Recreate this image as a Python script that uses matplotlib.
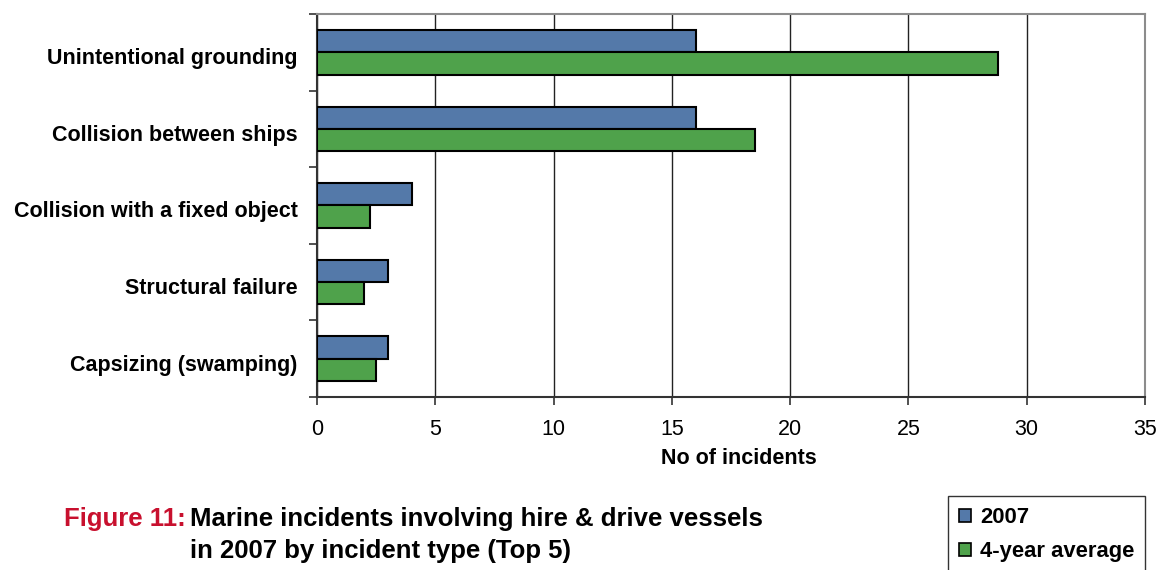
import matplotlib
matplotlib.use("Agg")
import matplotlib.pyplot as plt
import numpy as np
from matplotlib.patches import Patch

categories = ["Unintentional grounding", "Collision between ships",
              "Collision with a fixed object", "Structural failure",
              "Capsizing (swamping)"]
series_2007 = [16, 16, 4, 3, 3]
series_avg = [28.8, 18.5, 2.25, 2.0, 2.5]
series_names = ["2007", "4-year average"]
x_ticks = [0, 5, 10, 15, 20, 25, 30, 35]

plt.rcParams['font.family'] = ['Liberation Sans', 'DejaVu Sans']

fig = plt.figure(figsize=(11.64, 5.70), dpi=100)
ax = fig.add_axes([317/1164, 1-397/570, 828/1164, 383/570])

blue = "#5479a9"
green = "#4fa24b"
n = len(categories)
pos = np.arange(n)[::-1]  # top category first
h = 0.29
ax.barh(pos + h/2, series_2007, height=h, color=blue, edgecolor="black", linewidth=1.5, zorder=3)
ax.barh(pos - h/2, series_avg, height=h, color=green, edgecolor="black", linewidth=1.5, zorder=3)

ax.set_xlim(0, 35)
ax.set_ylim(-0.5, n - 0.5)
ax.set_xticks(x_ticks)
ax.set_xticklabels([str(t) for t in x_ticks], fontsize=15.5)
ax.set_yticks(np.arange(-0.5, n, 1.0))
ax.set_yticklabels([])
ax.set_yticks(pos - 0.05, minor=True)
ax.set_yticklabels(categories, minor=True, fontsize=15.5, fontweight="bold")
ax.tick_params(axis='y', which='minor', length=0, pad=14)
ax.tick_params(axis='y', which='major', length=6, width=1.2, color="#333333", direction="out")
ax.tick_params(axis='x', length=6, width=1.2, color="#333333", direction="out", pad=10)

ax.grid(axis='x', color="#222222", linewidth=1.0, zorder=0)
for s in ["top", "right"]:
    ax.spines[s].set_color("#8c8c8c")
    ax.spines[s].set_linewidth(1.5)
for s in ["left", "bottom"]:
    ax.spines[s].set_color("#333333")
    ax.spines[s].set_linewidth(1.5)

ax.set_xlabel("No of incidents", fontsize=15.5, fontweight="bold")
ax.xaxis.set_label_coords(0.509, -0.16, transform=ax.transAxes)
ax.xaxis.label.set_va("center")

fig.text(64/1164, 1-519/570, "Figure 11:", color="#c8102e", fontsize=18.5,
         fontweight="bold", va="center", ha="left")
fig.text(190/1164, 1-519/570, "Marine incidents involving hire & drive vessels",
         color="black", fontsize=18.5, fontweight="bold", va="center", ha="left")
fig.text(190/1164, 1-551/570, "in 2007 by incident type (Top 5)",
         color="black", fontsize=18.5, fontweight="bold", va="center", ha="left")

handles = [Patch(facecolor=blue, edgecolor="black", linewidth=1.2),
           Patch(facecolor=green, edgecolor="black", linewidth=1.2)]
leg = fig.legend(handles, series_names, loc="upper left",
                 bbox_to_anchor=(948/1164, 1-496/570), frameon=True,
                 fancybox=False, edgecolor="black", handlelength=0.55,
                 handleheight=0.55, handletextpad=0.4, labelspacing=0.6,
                 borderpad=0.5, borderaxespad=0,
                 prop={'weight': 'bold', 'size': 15.8})
leg.get_frame().set_linewidth(1.0)

fig.savefig("out.png", dpi=100)
